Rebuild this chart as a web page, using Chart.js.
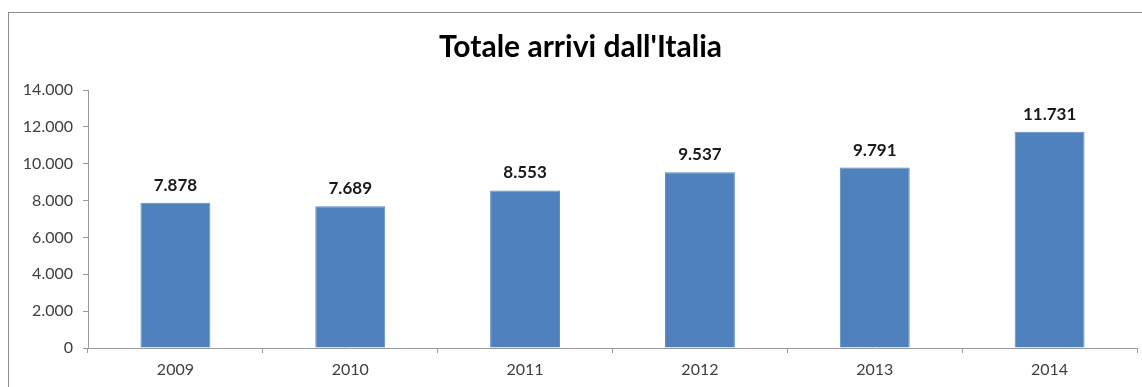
<!DOCTYPE html>
<html>
<head>
<meta charset="utf-8">
<script src="https://cdn.jsdelivr.net/npm/chart.js@4"></script>
<style>
  html, body { margin: 0; padding: 0; background: #fff; overflow: hidden; }
  #frame { position: absolute; left: 8px; top: 12px; width: 1150px; height: 420px; border: 1px solid #8c8c8c; }
  #wrap { position: absolute; left: 0; top: 0; width: 1142px; height: 387px; }
</style>
</head>
<body>
<div id="frame"></div>
<div id="wrap"><canvas id="chartArrivi"></canvas></div>
<script>
const anni = ['2009', '2010', '2011', '2012', '2013', '2014'];
const arrivi = [7878, 7689, 8553, 9537, 9791, 11731];
const yTicks = [0, 2000, 4000, 6000, 8000, 10000, 12000, 14000];

// separatore migliaia all'italiana
function fmt(n) {
  return String(n).replace(/\B(?=(\d{3})+(?!\d))/g, '.');
}

const etichette = {
  id: 'etichette',
  afterDatasetsDraw(chart) {
    const ctx = chart.ctx;
    const meta = chart.getDatasetMeta(0);
    ctx.save();
    ctx.font = 'bold 17px Lato';
    ctx.fillStyle = '#1a1a1a';
    ctx.textAlign = 'center';
    ctx.textBaseline = 'bottom';
    meta.data.forEach((bar, i) => {
      ctx.fillText(fmt(arrivi[i]), bar.x, bar.y - 9);
    });
    ctx.restore();
  }
};

const ctx_1 = document.getElementById('chartArrivi');

new Chart(ctx_1, {
  type: 'bar',
  data: {
    labels: anni,
    datasets: [{
      label: 'Arrivi',
      data: arrivi,
      backgroundColor: '#4f81bd',
      borderColor: '#5a8ac4',
      borderWidth: 1,
      barPercentage: 0.4,
      categoryPercentage: 1
    }]
  },
  options: {
    responsive: true,
    maintainAspectRatio: false,
    animation: false,
    layout: {
      padding: { left: 24, right: 5, top: 0, bottom: 0 }
    },
    plugins: {
      legend: { display: false },
      tooltip: { enabled: false },
      title: {
        display: true,
        text: "Totale arrivi dall'Italia",
        color: '#000',
        font: { family: 'Lato', size: 30, weight: 'bold' },
        padding: { top: 29, bottom: 25 }
      }
    },
    scales: {
      x: {
        grid: { drawOnChartArea: false, tickLength: 5, color: '#9a9a9a' },
        border: { color: '#9a9a9a' },
        ticks: { color: '#404040', font: { family: 'Lato', size: 16 }, padding: 7 },
        afterFit(scale) { scale.height = 39; }
      },
      y: {
        min: 0,
        max: 14000,
        afterBuildTicks(scale) { scale.ticks = yTicks.map(v => ({ value: v })); },
        grid: { drawOnChartArea: false, tickLength: 5, color: '#9a9a9a' },
        border: { color: '#9a9a9a' },
        ticks: {
          color: '#404040',
          font: { family: 'Lato', size: 16 },
          padding: 10,
          callback: v => fmt(v)
        },
        afterFit(scale) { scale.width = 64; }
      }
    }
  },
  plugins: [etichette]
});
</script>
</body>
</html>
